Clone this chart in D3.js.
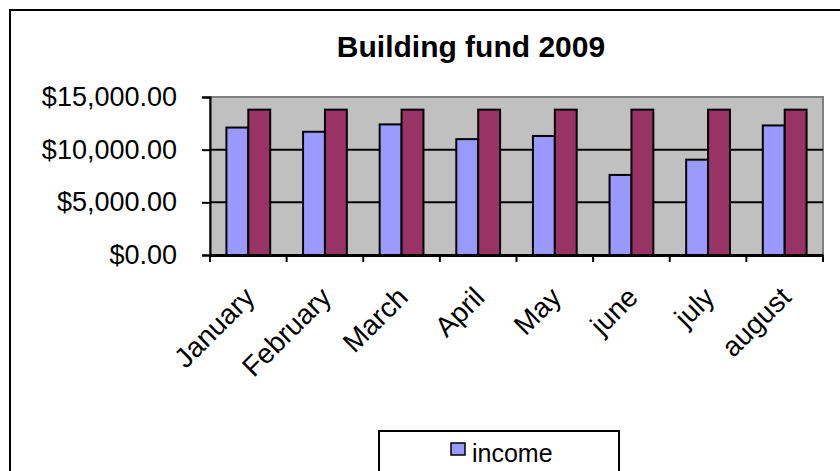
<!DOCTYPE html>
<html>
<head>
<meta charset="utf-8">
<script src="https://cdn.jsdelivr.net/npm/d3@7"></script>
<style>
  body { margin: 0; background: #fff; }
  text { font-family: "Liberation Sans", Arial, sans-serif; fill: #000; }
</style>
</head>
<body>
<svg id="chart"></svg>
<script>
// data
const months = ["January", "February", "March", "April", "May", "june", "july", "august"];
const income = [12100, 11700, 12400, 11000, 11300, 7600, 9050, 12300];
const goal = [13800, 13800, 13800, 13800, 13800, 13800, 13800, 13800];
const seriesNames = ["income", "goal"];
const legendNames = ["income"];
const yTicks = [0, 5000, 10000, 15000];

const width = 840;
const height = 471;
const plot = { left: 210, right: 823, top: 97, bottom: 255 };

const svg = d3.select("#chart")
  .attr("width", width)
  .attr("height", height);

// outer chart border
svg.append("rect")
  .attr("x", 10).attr("y", 10)
  .attr("width", 900).attr("height", 600)
  .attr("fill", "#fff")
  .attr("stroke", "#000")
  .attr("stroke-width", 2);

// title
svg.append("text")
  .attr("x", 471).attr("y", 57)
  .attr("text-anchor", "middle")
  .style("font-size", "30px")
  .style("font-weight", "bold")
  .text("Building fund 2009");

// scales
const x = d3.scaleBand()
  .domain(months)
  .range([plot.left, plot.right]);

const inner = d3.scaleBand()
  .domain(seriesNames)
  .range([0, x.bandwidth() / 1.75]);

const y = d3.scaleLinear()
  .domain([0, 15000])
  .range([plot.bottom, plot.top]);

const colors = { income: "#9999ff", goal: "#993366" };

// plot area
svg.append("rect")
  .attr("x", plot.left).attr("y", plot.top)
  .attr("width", plot.right - plot.left)
  .attr("height", plot.bottom - plot.top)
  .attr("fill", "#c0c0c0")
  .attr("stroke", "#808080")
  .attr("stroke-width", 2);

// gridlines
svg.selectAll(".grid")
  .data(yTicks.slice(1, 3))
  .enter().append("line")
  .attr("x1", plot.left).attr("x2", plot.right)
  .attr("y1", d => y(d)).attr("y2", d => y(d))
  .attr("stroke", "#000")
  .attr("stroke-width", 2);

// bars
const offset = (x.bandwidth() - x.bandwidth() / 1.75) / 2;
const rows = months.map((m, i) => ({ month: m, income: income[i], goal: goal[i] }));

seriesNames.forEach(s => {
  svg.selectAll(".bar-" + s)
    .data(rows)
    .enter().append("rect")
    .attr("class", "bar-" + s)
    .attr("x", d => x(d.month) + offset + inner(s))
    .attr("y", d => y(d[s]))
    .attr("width", inner.bandwidth())
    .attr("height", d => y(0) - y(d[s]))
    .attr("fill", colors[s])
    .attr("stroke", "#000")
    .attr("stroke-width", 2);
});

// y axis
const yAxis = d3.axisLeft(y)
  .tickValues(yTicks)
  .tickSize(8)
  .tickPadding(25)
  .tickFormat(d => "$" + d3.format(",.2f")(d));

const yg = svg.append("g")
  .attr("transform", "translate(" + plot.left + ",0)")
  .call(yAxis);
yg.select(".domain").attr("stroke-width", 2);
yg.selectAll(".tick line").attr("stroke-width", 2);
yg.selectAll("text").style("font-size", "27px").attr("fill", "#000");

// x axis
const xAxis = d3.axisBottom(x)
  .tickValues([])
  .tickSizeOuter(0);

const xg = svg.append("g")
  .attr("transform", "translate(0," + plot.bottom + ")")
  .call(xAxis);
xg.select(".domain").attr("stroke-width", 3);

// tick marks at band edges
xg.selectAll(".edge")
  .data(months.concat(["end"]))
  .enter().append("line")
  .attr("x1", (d, i) => i < months.length ? x(d) : plot.right)
  .attr("x2", (d, i) => i < months.length ? x(d) : plot.right)
  .attr("y1", 0).attr("y2", 7)
  .attr("stroke", "#000")
  .attr("stroke-width", 2);

// rotated month labels
svg.selectAll(".month-label")
  .data(months)
  .enter().append("text")
  .attr("class", "month-label")
  .attr("text-anchor", "end")
  .style("font-size", "28px")
  .attr("transform", d => "translate(" + (x(d) + x.bandwidth() / 2 + 8) + "," + (plot.bottom + 44) + ") rotate(-45)")
  .text(d => d);

// legend (box runs past the bottom edge, as in the picture)
const legend = svg.append("g").attr("transform", "translate(379,431)");
legend.append("rect")
  .attr("width", 240).attr("height", 80)
  .attr("fill", "#fff")
  .attr("stroke", "#000")
  .attr("stroke-width", 2);

const items = legend.selectAll(".item")
  .data(legendNames)
  .enter().append("g")
  .attr("transform", (d, i) => "translate(72," + (12 + i * 32) + ")");
items.append("rect")
  .attr("width", 14).attr("height", 12)
  .attr("fill", d => colors[d])
  .attr("stroke", "#000")
  .attr("stroke-width", 1.5);
items.append("text")
  .attr("x", 21).attr("y", 19)
  .style("font-size", "25px")
  .text(d => d);
</script>
</body>
</html>
